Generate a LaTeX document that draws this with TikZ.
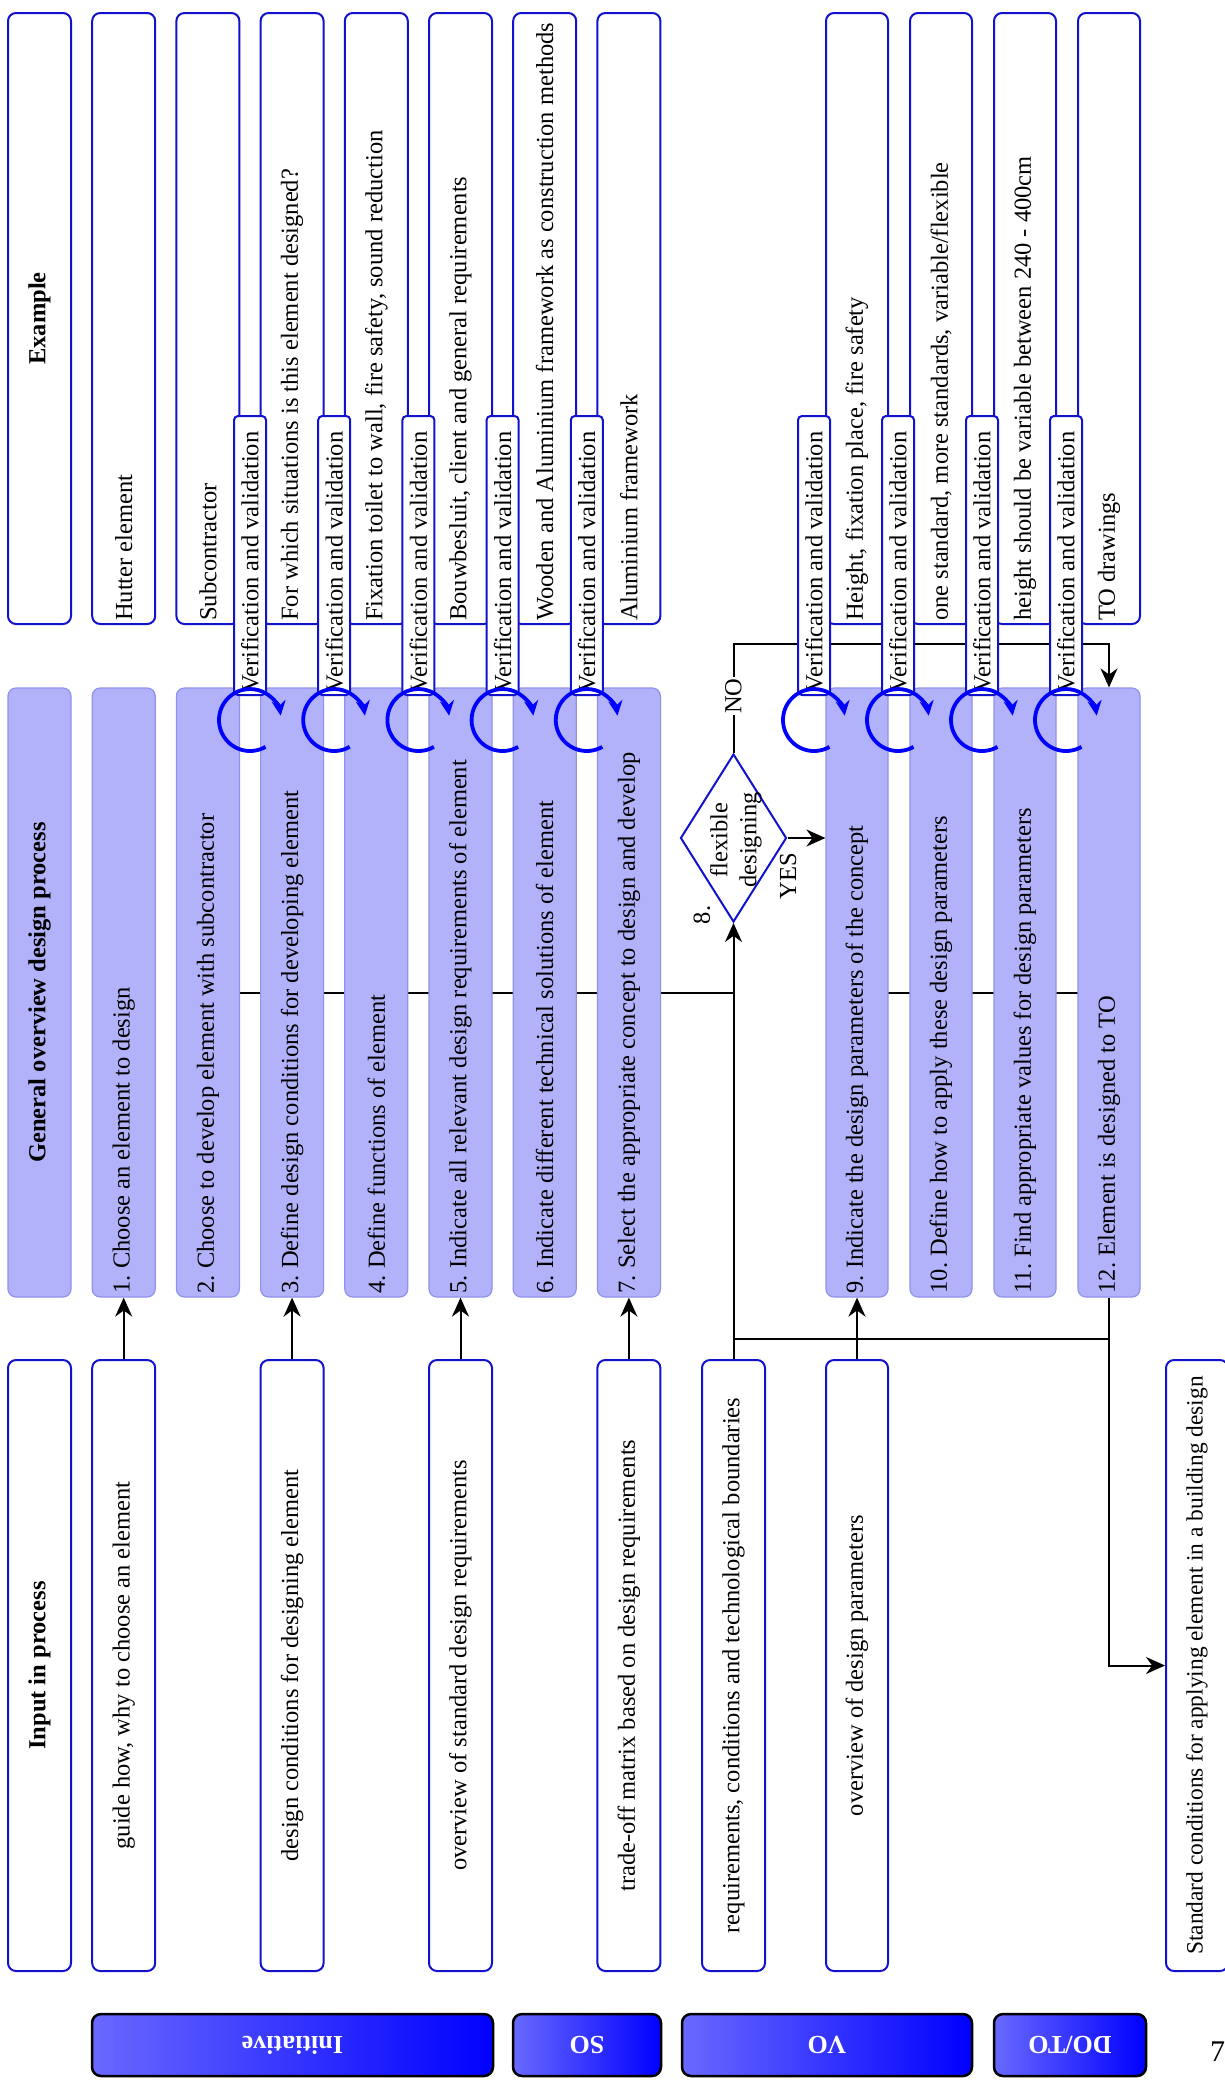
\documentclass[tikz,border=0pt]{standalone}
\usepackage{fontspec}
\setmainfont{Liberation Serif}
\usetikzlibrary{shapes.geometric, arrows.meta, calc}
\pgfdeclarelayer{bg}
\pgfsetlayers{bg,main}
\definecolor{boxblue}{RGB}{18,18,205}
\definecolor{procfill}{RGB}{178,178,250}
\definecolor{procline}{RGB}{145,145,235}
\definecolor{loopblue}{RGB}{0,0,255}
\definecolor{barlight}{RGB}{105,105,255}
\newcommand\bodysize{\fontsize{24.5}{29}\selectfont}
\newcommand\phasesize{\fontsize{26}{30}\selectfont}
\frenchspacing
\begin{document}
\begin{tikzpicture}[x=1pt,y=-1pt,
  outbox/.style={draw=boxblue, line width=2pt, fill=white, rounded corners=8pt, inner sep=0pt, minimum width=63pt, minimum height=611pt},
  procbox/.style={draw=procline, line width=1.2pt, fill=procfill, rounded corners=8pt, inner sep=0pt, minimum width=63pt, minimum height=609pt},
  narrow/.style={minimum width=62pt},
  vbox/.style={draw=boxblue, line width=2pt, fill=white, rounded corners=4pt, inner sep=0pt, minimum width=32pt, minimum height=279pt},
  phasebar/.style={draw=black, line width=2.5pt, rounded corners=9pt, left color=barlight, right color=blue, minimum height=62pt, inner sep=0pt},
  phasetxt/.style={text=white, font=\phasesize\bfseries, rotate=180, inner sep=0pt},
  uptxt/.style={rotate=90, anchor=west, inner sep=0pt, font=\bodysize},
  midtxt/.style={rotate=90, inner sep=0pt, font=\bodysize, align=center},
  headtxt/.style={rotate=90, inner sep=0pt, font=\bodysize\bfseries},
  wire/.style={draw=black, line width=2pt},
  arr/.style={wire, -{Stealth[length=19pt,width=17pt]}},
  vvloop/.style={draw=loopblue, line width=3.8pt, -{Stealth[length=15pt,width=14pt]}},
  decision/.style={diamond, draw=boxblue, line width=2pt, fill=white, minimum width=106pt, minimum height=168pt, inner sep=0pt},
]
\begin{pgfonlayer}{bg}
  \fill[white] (0,0) rectangle (1224,2089);
\end{pgfonlayer}
\useasboundingbox (0,0) rectangle (1224,2089);

% ---------- example row ----------
\node[outbox] (exA) at (39.5,318.5) {};
\node[headtxt] (exAt) at (exA.center) {Example};
\node[outbox] (exB) at (123.7,318.5) {};
\node[uptxt] (exBt) at ([yshift=4pt]exB.south) {Hutter element};
\node[outbox] (exC) at (207.9,318.5) {};
\node[uptxt] (exCt) at ([yshift=4pt]exC.south) {Subcontractor};
\node[outbox] (exD) at (292.1,318.5) {};
\node[uptxt] (exDt) at ([yshift=4pt]exD.south) {For which situations is this element designed?};
\node[outbox] (exE) at (376.3,318.5) {};
\node[uptxt] (exEt) at ([yshift=4pt]exE.south) {Fixation toilet to wall, fire safety, sound reduction};
\node[outbox] (exF) at (460.5,318.5) {};
\node[uptxt] (exFt) at ([yshift=4pt]exF.south) {Bouwbesluit, client and general requirements};
\node[outbox] (exG) at (544.7,318.5) {};
\node[uptxt] (exGt) at ([yshift=4pt]exG.south) {Wooden and Aluminium framework as construction methods};
\node[outbox] (exH) at (628.9,318.5) {};
\node[uptxt] (exHt) at ([yshift=4pt]exH.south) {Aluminium framework};
\node[outbox, narrow] (exJ) at (857,318.5) {};
\node[uptxt] (exJt) at ([yshift=4pt]exJ.south) {Height, fixation place, fire safety};
\node[outbox, narrow] (exK) at (941,318.5) {};
\node[uptxt] (exKt) at ([yshift=4pt]exK.south) {one standard, more standards, variable/flexible};
\node[outbox, narrow] (exL) at (1025,318.5) {};
\node[uptxt] (exLt) at ([yshift=4pt]exL.south) {height should be variable between 240 - 400cm};
\node[outbox, narrow] (exM) at (1109,318.5) {};
\node[uptxt] (exMt) at ([yshift=4pt]exM.south) {TO drawings};

% ---------- process row ----------
\node[procbox] (pA) at (39.5,992.5) {};
\node[headtxt] (pAt) at (pA.center) {General overview design process};
\node[procbox] (p1) at (123.7,992.5) {};
\node[uptxt] (p1t) at ([yshift=4pt]p1.south) {1. Choose an element to design};
\node[procbox] (p2) at (207.9,992.5) {};
\node[uptxt] (p2t) at ([yshift=4pt]p2.south) {2. Choose to develop element with subcontractor};
\node[procbox] (p3) at (292.1,992.5) {};
\node[uptxt] (p3t) at ([yshift=4pt]p3.south) {3. Define design conditions for developing element};
\node[procbox] (p4) at (376.3,992.5) {};
\node[uptxt] (p4t) at ([yshift=4pt]p4.south) {4. Define functions of element};
\node[procbox] (p5) at (460.5,992.5) {};
\node[uptxt] (p5t) at ([yshift=4pt]p5.south) {5. Indicate all relevant design requirements of element};
\node[procbox] (p6) at (544.7,992.5) {};
\node[uptxt] (p6t) at ([yshift=4pt]p6.south) {6. Indicate different technical solutions of element};
\node[procbox] (p7) at (628.9,992.5) {};
\node[uptxt] (p7t) at ([yshift=4pt]p7.south) {7. Select the appropriate concept to design and develop};
\node[procbox, narrow] (p9) at (857,992.5) {};
\node[uptxt] (p9t) at ([yshift=4pt]p9.south) {9. Indicate the design parameters of the concept};
\node[procbox, narrow] (p10) at (941,992.5) {};
\node[uptxt] (p10t) at ([yshift=4pt]p10.south) {10. Define how to apply these design parameters};
\node[procbox, narrow] (p11) at (1025,992.5) {};
\node[uptxt] (p11t) at ([yshift=4pt]p11.south) {11. Find appropriate values for design parameters};
\node[procbox, narrow] (p12) at (1109,992.5) {};
\node[uptxt] (p12t) at ([yshift=4pt]p12.south) {12. Element is designed to TO};

% ---------- decision ----------
\node[decision] (dec) at (733.5,838) {};
\node[midtxt] (dect) at (736,840) {flexible\\designing};
\node[rotate=90, inner sep=0pt, font=\bodysize] (decnum) at (702,915) {8.};

% ---------- input row ----------
\node[outbox] (inA) at (39.5,1665.5) {};
\node[headtxt] (inAt) at (inA.center) {Input in process};
\node[outbox] (in1) at (123.7,1665.5) {};
\node[midtxt] (in1t) at (in1.center) {guide how, why to choose an element};
\node[outbox] (in3) at (292.1,1665.5) {};
\node[midtxt] (in3t) at (in3.center) {design conditions for designing element};
\node[outbox] (in5) at (460.5,1665.5) {};
\node[midtxt] (in5t) at (in5.center) {overview of standard design requirements};
\node[outbox] (in7) at (628.9,1665.5) {};
\node[midtxt] (in7t) at (in7.center) {trade-off matrix based on design requirements};
\node[outbox] (inVO) at (733.5,1665.5) {};
\node[midtxt] (inVOt) at (inVO.center) {requirements, conditions and technological boundaries};
\node[outbox, narrow] (in9) at (857,1665.5) {};
\node[midtxt] (in9t) at (in9.center) {overview of design parameters};
\node[outbox, narrow] (std) at (1197,1665.5) {};
\node[rotate=90, inner sep=0pt, font=\fontsize{23.4}{28}\selectfont] (stdt) at (std.center) {Standard conditions for applying element in a building design};

% ---------- connectors (behind the boxes) ----------
\begin{pgfonlayer}{bg}
  \draw[arr] (in1.north) -- (p1.south);
  \draw[arr] (in3.north) -- (p3.south);
  \draw[arr] (in5.north) -- (p5.south);
  \draw[arr] (in7.north) -- (p7.south);
  \draw[arr] (in9.north) -- (p9.south);
  \coordinate (spine) at (733.5,992.5);
  \draw[wire] (p2.center) -- (spine);
  \draw[wire] (p9.center) -- (p12.center);
  \draw[arr] (inVO.north) -- (dec.south);
  \draw[arr] (dec.east) -- (dec.east -| p9.west);
  \coordinate (nobend) at (733.5,644);
  \draw[arr] (dec.north) -- (nobend) -| (p12.north);
  \coordinate (back) at (733.5,1339);
  \draw[wire] (p12.south) |- (back);
  \draw[arr] (p12.south) |- (std.west);
\end{pgfonlayer}
\node[rotate=90, fill=white, inner sep=1pt, font=\bodysize] (nolab) at (733.5,696) {NO};
\node[rotate=90, inner sep=0pt, font=\bodysize] (yeslab) at (788,876) {YES};

% ---------- verification loops ----------
\foreach \vx [count=\k] in {250,334.2,418.4,502.6,586.8,814,898,982,1066} {
  \node[vbox] (ver\k) at (\vx,555.5) {};
  \node[uptxt] (ver\k t) at ([yshift=3pt]ver\k.south) {Verification and validation};
  \draw[vvloop] (\vx,720) ++(60:31) arc[start angle=60, end angle=352, radius=31];
}

% ---------- phase bars ----------
\node[phasebar, minimum width=401pt] (ini) at (292.5,2045) {};
\node[phasetxt] (init) at (ini.center) {Initiative};
\node[phasebar, minimum width=148pt] (so) at (587,2045) {};
\node[phasetxt] (sot) at (so.center) {SO};
\node[phasebar, minimum width=290pt] (vo) at (827,2045) {};
\node[phasetxt] (vot) at (vo.center) {VO};
\node[phasebar, minimum width=152pt] (doto) at (1070,2045) {};
\node[phasetxt] (dotot) at (doto.center) {DO/TO};

\node[anchor=west, inner sep=0pt, font=\fontsize{30}{34}\selectfont] (pagenum) at (1210,2052) {7};
\end{tikzpicture}
\end{document}
